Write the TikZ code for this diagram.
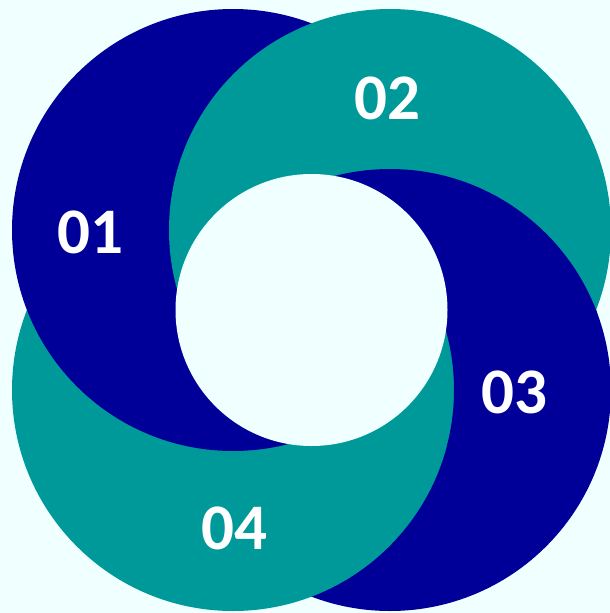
\documentclass[tikz,border=0pt]{standalone}
\usepackage{fontspec}
\setmainfont{Carlito}
\definecolor{ringblue}{RGB}{0,0,153}
\definecolor{ringteal}{RGB}{0,153,153}
\definecolor{bgcyan}{RGB}{240,255,255}
\begin{document}
\begin{tikzpicture}[x=1pt,y=-1pt,
  lab/.style={text=white,font=\fontsize{65}{65}\selectfont\bfseries,inner sep=0pt},
  ring/.style={radius=221pt}]
\useasboundingbox (0,0) rectangle (610,613);
\fill[bgcyan] (0,0) rectangle (610,613);
\clip (0,0) rectangle (610,613);
\coordinate (c1) at (233,230);
\coordinate (c2) at (390,230);
\coordinate (c3) at (390,390);
\coordinate (c4) at (233,390);
\coordinate (c0) at (311.5,310);
\fill[ringblue] (c3) circle[ring];
\fill[ringteal] (c4) circle[ring];
\fill[ringblue] (c1) circle[ring];
\fill[ringteal] (c2) circle[ring];
\begin{scope}
  \clip (c2) circle[radius=223pt];
  \clip (c3) circle[ring];
  \fill[ringblue, even odd rule] (0,0) rectangle (610,613) (c4) circle[ring];
\end{scope}
\fill[bgcyan] (c0) circle[radius=136pt];
\node[lab] (t1) at (90.5,232.5) {01};
\node[lab] (t2) at (387.5,98) {02};
\node[lab] (t3) at (514,392) {03};
\node[lab] (t4) at (234,528) {04};
\end{tikzpicture}
\end{document}
